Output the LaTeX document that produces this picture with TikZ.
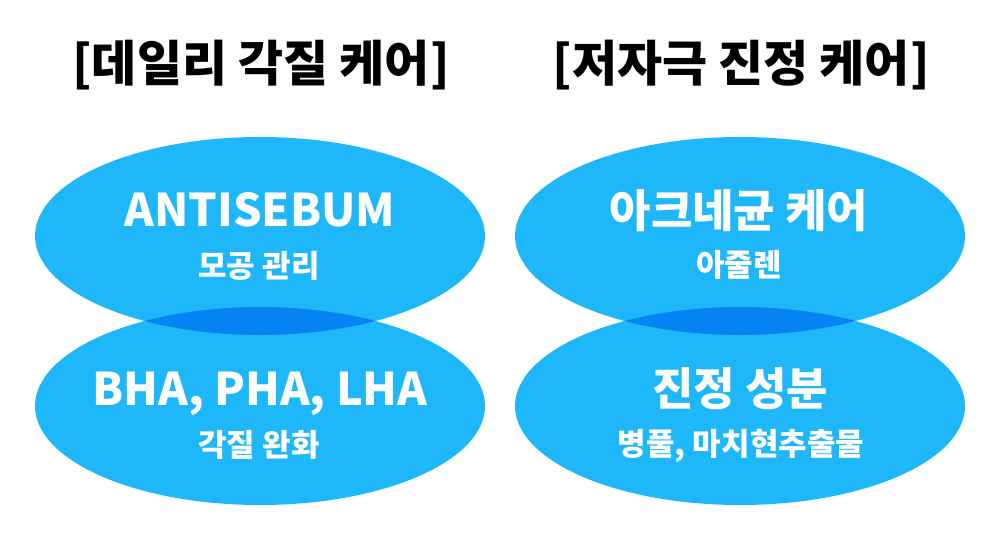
\documentclass[tikz,border=0pt]{standalone}
\usepackage{fontspec}
\setmainfont{Noto Sans CJK KR}
\usetikzlibrary{positioning}
\definecolor{bubble}{HTML}{1EB8FA}
\definecolor{overlap}{HTML}{0583F2}
\tikzset{
    bubble/.style={
        fill=bubble
    },
    lens/.style={
        fill=overlap
    },
    titlelabel/.style={
        font=\bfseries\fontsize{49}{54}\selectfont,
        anchor=base,
        inner sep=0pt
    },
    mainlabel/.style={
        font=\bfseries\fontsize{45}{50}\selectfont,
        text=white,
        anchor=base,
        inner sep=0pt
    },
    sublabel/.style={
        font=\bfseries\fontsize{31}{34}\selectfont,
        text=white,
        anchor=base,
        inner sep=0pt
    }
}
\begin{document}
\begin{tikzpicture}[x=1pt,y=-1pt]

    \useasboundingbox (0,0) rectangle (1000,557);

    % Ellipses
    \fill[bubble] (260,236) ellipse (225 and 99);
    \fill[bubble] (260,406) ellipse (225 and 99);
    \fill[bubble] (740,236) ellipse (225 and 99);
    \fill[bubble] (740,406) ellipse (225 and 99);

    % Overlaps
    \begin{scope}
        \clip (260,236) ellipse (225 and 99);
        \fill[lens] (260,406) ellipse (225 and 99);
    \end{scope}
    \begin{scope}
        \clip (740,236) ellipse (225 and 99);
        \fill[lens] (740,406) ellipse (225 and 99);
    \end{scope}

    % Titles
    \node[titlelabel] (dailytitle) at (261,81) {[데일리 각질 케어]};
    \node[titlelabel] (calmtitle) at (741,81) {[저자극 진정 케어]};

    % Labels
    \node[mainlabel] (antisebum) at (260,226) {ANTISEBUM};
    \node[sublabel] (pore) at (259,277) {모공 관리};

    \node[mainlabel] (acids) at (260,405) {BHA, PHA, LHA};
    \node[sublabel] (peel) at (259,456) {각질 완화};

    \node[mainlabel] (acne) at (739,227) {아크네균 케어};
    \node[sublabel] (azulene) at (739,276) {아줄렌};

    \node[mainlabel] (soothe) at (740,405) {진정 성분};
    \node[sublabel] (extract) at (741,455) {병풀, 마치현추출물};

\end{tikzpicture}
\end{document}
